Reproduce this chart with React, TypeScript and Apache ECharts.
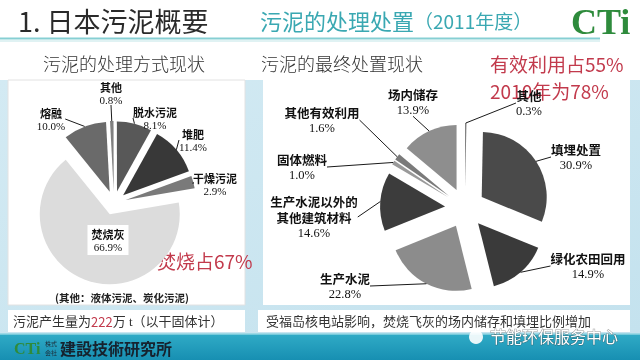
import React, { useEffect, useRef } from "react";
import * as echarts from "echarts";

// Left pie: 污泥的处理方式现状
const leftNames = ["其他", "脱水污泥", "堆肥", "干燥污泥", "焚烧灰", "熔融"];
const leftValues = [0.8, 8.1, 11.4, 2.9, 66.9, 10.0];

// Right pie: 污泥的最终处置现状
const rightNames = [
  "其他",
  "填埋处置",
  "绿化农田回用",
  "生产水泥",
  "生产水泥以外的\n其他建筑材料",
  "固体燃料",
  "其他有效利用",
  "场内储存",
];
const rightValues = [0.3, 30.9, 14.9, 22.8, 14.6, 1.0, 1.6, 13.9];

// styles / positions
const leftColors = ["#808080", "#585858", "#383838", "#7a7a7a", "#dcdcdc", "#6a6a6a"];
const rightColors = ["#666666", "#4a4a4a", "#3a3a3a", "#8c8c8c", "#3c3c3c", "#9a9a9a", "#7a7a7a", "#8e8e8e"];
const leftLabelPos = [[111, 93], [155, 118], [193, 140], [215, 184], [108, 240], [51, 119]];
const rightLabelPos = [[529, 103], [576, 157], [588, 266], [345, 286], [314, 217], [302, 167], [322, 120], [413, 102]];

const CJK = "'Noto Sans CJK SC', sans-serif";
const SERIF = "'Liberation Serif', 'Noto Sans CJK SC', serif";

function fmt(p: any) {
  const name = String(p.name)
    .split("\n")
    .map((s: string) => `{n|${s}}`)
    .join("\n");
  return `${name}\n{p|${Number(p.value).toFixed(1)}%}`;
}

function makeRich(size: number, lh: number) {
  return {
    n: { fontSize: size, fontWeight: "bold", fontFamily: CJK, color: "#111", lineHeight: lh, align: "center" },
    p: { fontSize: size, fontFamily: SERIF, color: "#111", lineHeight: lh, align: "center" },
  };
}

function piePair(
  names: string[],
  values: number[],
  colors: string[],
  labelPos: number[][],
  center: number[],
  r: number,
  offset: number,
  startAngle: number,
  fontSize: number,
  lineHeight: number,
  insideIndex: number
) {
  const visible = {
    type: "pie",
    center,
    radius: [0, r],
    startAngle,
    clockwise: true,
    selectedMode: "multiple",
    selectedOffset: offset,
    avoidLabelOverlap: false,
    minAngle: 1,
    silent: true,
    z: 2,
    data: names.map((n, i) => ({ name: n, value: values[i], selected: true, itemStyle: { color: colors[i] } })),
    label: { show: false },
    labelLine: { show: false },
    emphasis: { disabled: true },
    itemStyle: { borderWidth: 0 },
  };
  const labels = {
    type: "pie",
    center,
    radius: [0, r + offset],
    startAngle,
    clockwise: true,
    avoidLabelOverlap: false,
    minAngle: 1,
    silent: true,
    z: 3,
    data: names.map((n, i) => {
      const d: any = { name: n, value: values[i] };
      if (i === insideIndex) {
        d.label = { position: "inside", backgroundColor: "#ffffff", padding: [2, 4] };
        d.labelLine = { show: false };
      }
      return d;
    }),
    itemStyle: { color: "rgba(0,0,0,0)", borderWidth: 0 },
    label: { show: true, position: "outside", formatter: fmt, rich: makeRich(fontSize, lineHeight), align: "center" },
    labelLine: { show: true, length: 0, length2: 0, lineStyle: { color: "#1a1a1a", width: 1 } },
    labelLayout: (p: any) => ({
      x: labelPos[p.dataIndex][0],
      y: labelPos[p.dataIndex][1],
      align: "center",
      verticalAlign: "middle",
    }),
    emphasis: { disabled: true },
  };
  return [visible, labels];
}

export default function App() {
  const ref = useRef<HTMLDivElement>(null);
  useEffect(() => {
    if (!ref.current) return;
    const chart = echarts.init(ref.current, undefined, { renderer: "svg" });

    const text = (x: number, y: number, t: string, style: any) => ({
      type: "text",
      x,
      y,
      style: { text: t, textVerticalAlign: "middle", verticalAlign: "middle", ...style },
    });

    const graphics: any[] = [
      { type: "rect", shape: { x: 0, y: 0, width: 640, height: 360 }, style: { fill: "#ffffff" } },
      {
        type: "rect",
        shape: { x: 0, y: 80, width: 640, height: 254 },
        style: {
          fill: new echarts.graphic.LinearGradient(0, 0, 1, 1, [
            { offset: 0, color: "#d3eaf3" },
            { offset: 1, color: "#c4e2ee" },
          ]),
        },
      },
      { type: "line", shape: { x1: 0, y1: 38.5, x2: 600, y2: 38.5 }, style: { stroke: "#86cfd3", lineWidth: 2 } },
      { type: "line", shape: { x1: 0, y1: 41, x2: 600, y2: 41 }, style: { stroke: "#e0f2f3", lineWidth: 2 } },
      { type: "rect", shape: { x: 8, y: 80, width: 237, height: 225 }, style: { fill: "#ffffff", stroke: "#e2e2e2", lineWidth: 1 } },
      { type: "rect", shape: { x: 263, y: 80, width: 367, height: 225 }, style: { fill: "#ffffff" } },
      { type: "rect", shape: { x: 8, y: 310, width: 237, height: 22 }, style: { fill: "#ffffff" } },
      { type: "rect", shape: { x: 258, y: 310, width: 372, height: 22 }, style: { fill: "#ffffff" } },
      {
        type: "rect",
        shape: { x: 0, y: 334, width: 640, height: 26 },
        style: {
          fill: new echarts.graphic.LinearGradient(0, 0, 0, 1, [
            { offset: 0, color: "#30abc6" },
            { offset: 1, color: "#178fb2" },
          ]),
        },
      },
      { type: "line", shape: { x1: 0, y1: 334, x2: 640, y2: 334 }, style: { stroke: "#8fd4e2", lineWidth: 1.5 } },
      // titles
      text(18, 20, "1. 日本污泥概要", { fontSize: 27, fontFamily: CJK, fill: "#2a2a2a" }),
      text(260, 20, "{a|污泥的处理处置}{b|（2011年度）}", {
        fill: "#3aa8b2",
        rich: {
          a: { fontSize: 22, fontFamily: CJK, fill: "#3aa8b2", color: "#3aa8b2" },
          b: { fontSize: 19, fontFamily: CJK, fill: "#3aa8b2", color: "#3aa8b2" },
        },
      }),
      text(571, 22, "CTi", { fontSize: 36, fontWeight: "bold", fontFamily: SERIF, fill: "#2e8b3c" }),
      // panel headers
      text(43, 63, "污泥的处理方式现状", { fontSize: 18, fontFamily: CJK, fontWeight: 300, fill: "#333" }),
      text(261, 63, "污泥的最终处置现状", { fontSize: 18, fontFamily: CJK, fontWeight: 300, fill: "#333" }),
      // red notes
      text(490, 63, "有效利用占55%", { fontSize: 19, fontFamily: CJK, fill: "#c23a4c" }),
      text(490, 90, "2010年为78%", { fontSize: 19, fontFamily: CJK, fill: "#c23a4c" }),
      text(157, 260, "焚烧占67%", { fontSize: 19, fontFamily: CJK, fill: "#c23a4c" }),
      text(122, 297, "(其他：液体污泥、炭化污泥)", {
        fontSize: 10.5,
        fontWeight: "bold",
        fontFamily: CJK,
        fill: "#222",
        textAlign: "center",
        align: "center",
      }),
      // strips
      text(13, 321, "{a|污泥产生量为}{r|222}{a|万 t（以干固体计）}", {
        rich: {
          a: { fontSize: 13, fontFamily: SERIF, fill: "#333", color: "#333" },
          r: { fontSize: 13, fontFamily: CJK, fill: "#c23a4c", color: "#c23a4c" },
        },
      }),
      text(266, 321, "受福岛核电站影响，焚烧飞灰的场内储存和填埋比例增加", { fontSize: 13, fontFamily: SERIF, fill: "#333" }),
      // footer
      text(14, 348, "CTi", { fontSize: 16, fontWeight: "bold", fontFamily: SERIF, fill: "#2e8b3c" }),
      text(45, 348, "株式\n会社", { fontSize: 6, fontFamily: CJK, fill: "#1c2a36", lineHeight: 8.5 }),
      text(60, 348, "建設技術研究所", { fontSize: 16, fontWeight: "bold", fontFamily: "'Noto Sans CJK JP', sans-serif", fill: "#16222e" }),
      // watermark
      { type: "circle", shape: { cx: 476, cy: 337, r: 7 }, style: { fill: "rgba(255,255,255,0.9)" } },
      text(490, 336, "节能环保服务中心", {
        fontSize: 16,
        fontFamily: CJK,
        fill: "#ffffff",
        stroke: "rgba(60,60,60,0.5)",
        lineWidth: 1,
      }),
    ];

    const option: any = {
      animation: false,
      graphic: { elements: graphics },
      series: [
        ...piePair(leftNames, leftValues, leftColors, leftLabelPos, [114, 203], 70, 12, 93, 11, 13, 4),
        ...piePair(rightNames, rightValues, rightColors, rightLabelPos, [465, 208], 65, 20, 90, 12.5, 16, -1),
      ],
    };
    chart.setOption(option);
    return () => chart.dispose();
  }, []);
  return <div ref={ref} style={{ position: "fixed", left: 0, top: 0, width: 640, height: 360 }} />;
}
